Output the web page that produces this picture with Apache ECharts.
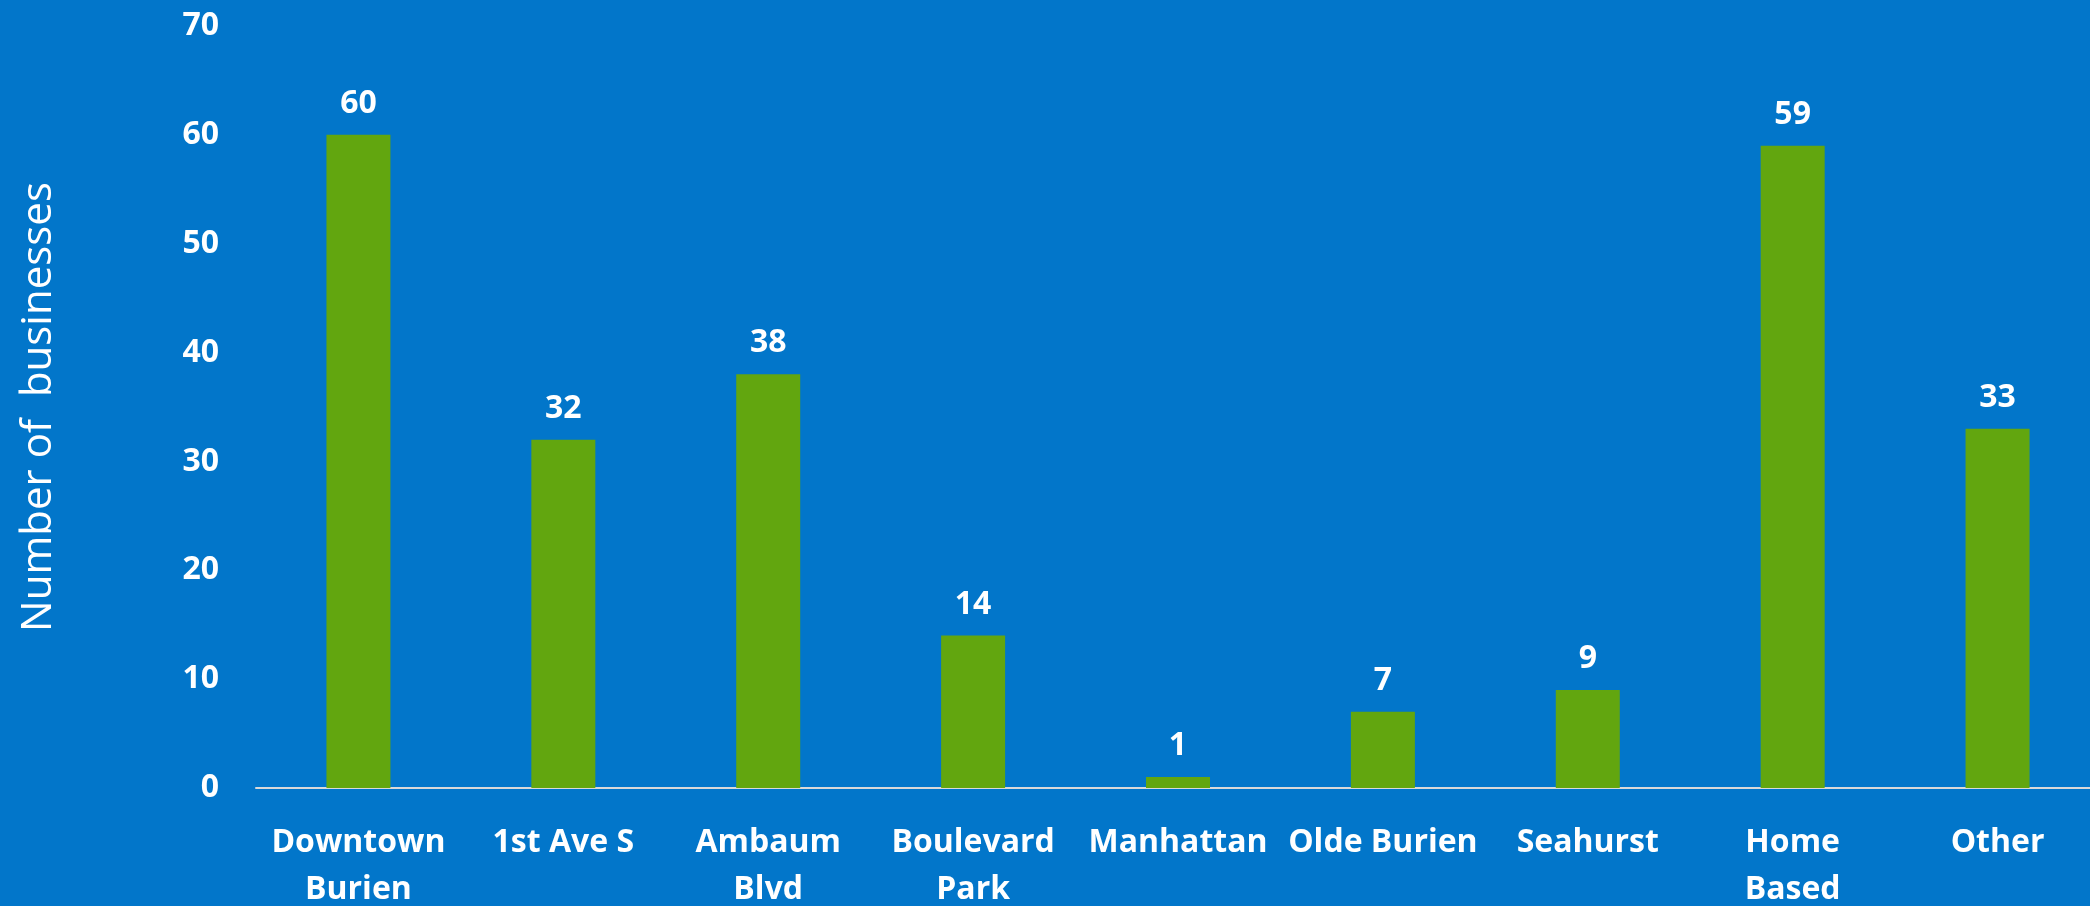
<!DOCTYPE html>
<html>
<head>
<meta charset="utf-8">
<script src="https://cdn.jsdelivr.net/npm/echarts@6/dist/echarts.min.js"></script>
<style>
html,body{margin:0;padding:0;background:#0276CA;}
#chart{width:2090px;height:906px;}
</style>
</head>
<body>
<div id="chart"></div>
<script>
const categories = ["Downtown\nBurien", "1st Ave S", "Ambaum\nBlvd", "Boulevard\nPark", "Manhattan", "Olde Burien", "Seahurst", "Home\nBased", "Other"];
const businessCounts = [60, 32, 38, 14, 1, 7, 9, 59, 33];
const yAxisName = "Number of  businesses";

const chart = echarts.init(document.getElementById('chart'));
chart.setOption({
  backgroundColor: '#0276CA',
  animation: false,
  grid: { left: 256, right: -10, top: 26, bottom: 118, outerBoundsMode: 'none', containLabel: false },
  xAxis: {
    type: 'category',
    data: categories,
    axisLine: { show: true, lineStyle: { color: '#D9D9D9', width: 2 } },
    axisTick: { show: false },
    axisLabel: {
      color: '#FFFFFF', fontFamily: 'Open Sans', fontWeight: 'bold', fontSize: 32,
      lineHeight: 47, margin: 31, interval: 0
    }
  },
  yAxis: {
    type: 'value',
    min: 0, max: 70, interval: 10,
    name: yAxisName,
    nameLocation: 'middle',
    nameGap: 196,
    nameTextStyle: { color: '#FFFFFF', fontFamily: 'Open Sans', fontSize: 42 },
    axisLine: { show: false },
    axisTick: { show: false },
    splitLine: { show: false },
    axisLabel: {
      color: '#FFFFFF', fontFamily: 'Open Sans', fontWeight: 'bold', fontSize: 32, margin: 37
    }
  },
  series: [{
    type: 'bar',
    data: businessCounts,
    barWidth: 64,
    itemStyle: { color: '#62A60F' },
    label: {
      show: true, position: 'top', distance: 15,
      color: '#FFFFFF', fontFamily: 'Open Sans', fontWeight: 'bold', fontSize: 32
    }
  }]
});
</script>
</body>
</html>
